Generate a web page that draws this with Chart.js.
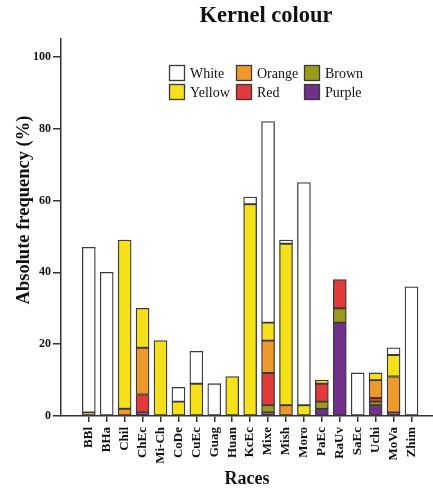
<!DOCTYPE html>
<html>
<head>
<meta charset="utf-8">
<script src="https://cdn.jsdelivr.net/npm/chart.js@4/dist/chart.umd.min.js"></script>
<style>
  body { margin: 0; background: #fff; }
  #wrap { width: 433px; height: 492px; }
</style>
</head>
<body>
<div id="wrap"><canvas id="kernelChart" width="433" height="492"></canvas></div>
<script>
const races = ['BBl', 'BHa', 'Chil', 'ChEc', 'Mi-Ch', 'CoDe', 'CuEc', 'Guag', 'Huan', 'KcEc',
  'Mixe', 'Mish', 'Moro', 'PaEc', 'RaUv', 'SaEc', 'Uchi', 'MoVa', 'Zhim'];

// stacked bottom -> top: purple, brown, red, orange, yellow, white
const purple = [0, 0, 0, 1, 0, 0, 0, 0, 0, 0, 1, 0, 0, 2, 26, 0, 3, 1, 0];
const brown  = [0, 0, 0, 0, 0, 0, 0, 0, 0, 0, 2, 0, 0, 2, 4, 0, 1, 0, 0];
const red    = [0, 0, 0, 5, 0, 0, 0, 0, 0, 0, 9, 0, 0, 5, 8, 0, 1, 0, 0];
const orange = [0, 0, 2, 13, 0, 0, 0, 0, 0, 0, 9, 3, 0, 0, 0, 0, 5, 10, 0];
const yellow = [1, 0, 47, 11, 21, 4, 9, 0, 11, 59, 5, 45, 3, 1, 0, 0, 2, 6, 0];
const white  = [46, 40, 0, 0, 0, 4, 9, 9, 0, 2, 56, 1, 62, 0, 0, 12, 0, 2, 36];

const yTicks = [0, 20, 40, 60, 80, 100];

const colours = {
  White: '#ffffff',
  Yellow: '#f6e019',
  Orange: '#f0992b',
  Red: '#e2393a',
  Brown: '#9b9a1b',
  Purple: '#70308c'
};

function toPoints(values) {
  return values.map((v, i) => ({ x: i, y: v })).filter(p => p.y > 0);
}

function makeSet(label, values) {
  return {
    label: label,
    data: toPoints(values),
    backgroundColor: colours[label],
    borderColor: '#3a3a3a',
    borderWidth: 1.3,
    borderSkipped: false,
    barThickness: 13
  };
}

const serif = '"Liberation Serif", "DejaVu Serif", serif';

// titles and the two-row legend, placed like the original figure
const decorations = {
  id: 'decorations',
  afterDraw(chart) {
    const ctx = chart.ctx;
    ctx.save();
    ctx.fillStyle = '#111';
    ctx.textAlign = 'center';
    ctx.textBaseline = 'middle';
    ctx.font = 'bold 22.5px ' + serif;
    ctx.fillText('Kernel colour', 266, 16);

    ctx.save();
    ctx.translate(24, 210);
    ctx.rotate(-Math.PI / 2);
    ctx.font = 'bold 18.5px ' + serif;
    ctx.fillText('Absolute frequency (%)', 0, 0);
    ctx.restore();

    const legendItems = [
      ['White', 169, 65], ['Orange', 236, 65], ['Brown', 304, 65],
      ['Yellow', 169, 84], ['Red', 236, 84], ['Purple', 304, 84]
    ];
    ctx.font = '14px ' + serif;
    ctx.textAlign = 'left';
    legendItems.forEach(([name, x, y]) => {
      ctx.fillStyle = colours[name];
      ctx.fillRect(x, y, 16, 16);
      ctx.strokeStyle = '#3a3a3a';
      ctx.lineWidth = 1.3;
      ctx.strokeRect(x + 0.5, y + 0.5, 15, 15);
      ctx.fillStyle = '#111';
      ctx.fillText(name, x + 21, y + 9);
    });
    ctx.restore();
  }
};

new Chart(document.getElementById('kernelChart'), {
  type: 'bar',
  data: {
    datasets: [
      makeSet('Purple', purple),
      makeSet('Brown', brown),
      makeSet('Red', red),
      makeSet('Orange', orange),
      makeSet('Yellow', yellow),
      makeSet('White', white)
    ]
  },
  options: {
    responsive: false,
    animation: false,
    layout: { padding: { top: 39, right: 0, left: 0, bottom: 0 } },
    plugins: {
      legend: { display: false },
      title: { display: false },
      tooltip: { enabled: false }
    },
    scales: {
      x: {
        type: 'linear',
        stacked: true,
        offset: false,
        min: -1.55,
        max: 19.2,
        afterBuildTicks: (scale) => { scale.ticks = races.map((r, i) => ({ value: i })); },
        afterFit: (scale) => { scale.height = 76; },
        border: { display: true, color: '#333', width: 1.5 },
        grid: { drawOnChartArea: false, offset: false, tickLength: 6, tickColor: '#333', lineWidth: 1.5 },
        ticks: {
          autoSkip: false,
          minRotation: 90,
          maxRotation: 90,
          padding: 5,
          color: '#111',
          font: { family: serif, size: 13, weight: 'bold' },
          callback: (value) => races[value]
        },
        title: {
          display: true,
          text: 'Races',
          color: '#111',
          padding: { top: 0, bottom: 2 },
          font: { family: serif, size: 18, weight: 'bold' }
        }
      },
      y: {
        stacked: true,
        min: 0,
        max: 105,
        afterBuildTicks: (scale) => { scale.ticks = yTicks.map(v => ({ value: v })); },
        afterFit: (scale) => { scale.width = 61; },
        border: { display: true, color: '#333', width: 1.5 },
        grid: { drawOnChartArea: false, tickLength: 8, tickColor: '#333', lineWidth: 1.5 },
        ticks: {
          padding: 2,
          color: '#111',
          font: { family: serif, size: 12, weight: 'bold' }
        }
      }
    }
  },
  plugins: [decorations]
});
</script>
</body>
</html>
